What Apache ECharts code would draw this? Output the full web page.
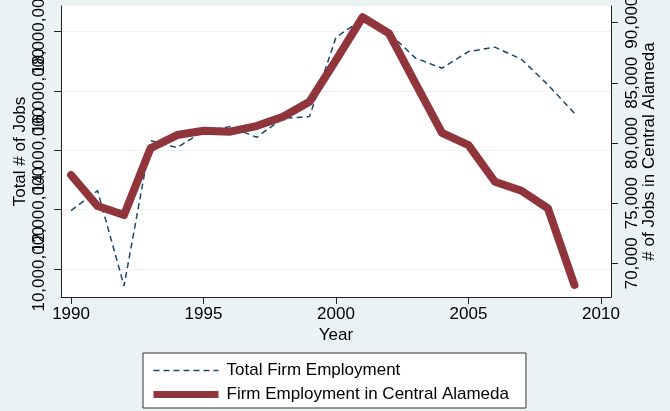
<!DOCTYPE html>
<html>
<head>
<meta charset="utf-8">
<script src="https://cdn.jsdelivr.net/npm/echarts@6/dist/echarts.min.js"></script>
<style>
  html, body { margin: 0; padding: 0; background: #eaf2f3; }
  #chart { width: 670px; height: 411px; }
</style>
</head>
<body>
<div id="chart"></div>
<script>
const years = [1990, 1991, 1992, 1993, 1994, 1995, 1996, 1997, 1998, 1999,
  2000, 2001, 2002, 2003, 2004, 2005, 2006, 2007, 2008, 2009]
const totalJobs = [11970000, 12640000, 9430000, 14330000, 14090000, 14650000, 14800000, 14440000, 15080000, 15140000,
  17810000, 18420000, 17960000, 17110000, 16770000, 17330000, 17480000, 17070000, 16210000, 15250000]
const centralJobs = [77340, 74760, 74010, 79560, 80660, 81020, 80940, 81410, 82180, 83430,
  86890, 90450, 89110, 84960, 80850, 79830, 76780, 76030, 74570, 68200]
const yearTicks = [1990, 1995, 2000, 2005, 2010]
const totalTicks = [10000000, 12000000, 14000000, 16000000, 18000000]
const centralTicks = [70000, 75000, 80000, 85000, 90000]

const font = '"Liberation Sans", Arial, sans-serif'
const axisColor = '#222'
const navy = '#1a476f'
const maroon = '#90353b'
const fmt = v => Math.round(v).toLocaleString('en-US')

// left tick labels are long and overlap each other (as in the original);
// split them over two stacked axes so ECharts doesn't drop every other one
const totalTicksA = totalTicks.filter((v, i) => i % 2 === 0)
const totalTicksB = totalTicks.filter((v, i) => i % 2 === 1)
const totalMin = 9056000
const totalMax = 18867000

const labelStyle = {
  interval: 0, rotate: 90, fontSize: 17, color: '#000', margin: 13,
  showMinLabel: true, showMaxLabel: true, hideOverlap: false, formatter: fmt
}

const chart = echarts.init(document.getElementById('chart'))

chart.setOption({
  backgroundColor: '#eaf2f3',
  animation: false,
  textStyle: { fontFamily: font, color: '#000' },
  grid: {
    left: 61, top: 6, right: 59, bottom: 114,
    outerBoundsMode: 'none',
    containLabel: false,
    show: true, backgroundColor: '#fff', borderWidth: 0
  },
  legend: {
    orient: 'vertical',
    left: 143, top: 353, height: 58,
    padding: [9, 17, 5, 7],
    itemWidth: 65, itemHeight: 14, itemGap: 7,
    backgroundColor: '#fff',
    borderColor: '#333', borderWidth: 1, borderRadius: 0,
    itemStyle: { opacity: 0 },
    textStyle: { fontSize: 17, color: '#000', fontFamily: font, padding: [0, 0, 0, 3] },
    data: [
      { name: 'Total Firm Employment', lineStyle: { color: navy, width: 1.5, type: [6, 4], cap: 'butt' } },
      { name: 'Firm Employment in Central Alameda', lineStyle: { color: maroon, width: 7, type: 'solid', cap: 'butt' } }
    ]
  },
  xAxis: {
    type: 'value',
    min: 1989.62, max: 2010.38,
    name: 'Year', nameLocation: 'middle', nameGap: 30, nameMoveOverlap: false,
    nameTextStyle: { fontSize: 17, color: '#000' },
    axisLine: { show: true, onZero: false, lineStyle: { color: axisColor, width: 1 } },
    axisTick: { show: true, length: 7, customValues: yearTicks, lineStyle: { color: axisColor } },
    axisLabel: {
      customValues: yearTicks, interval: 0, fontSize: 17, color: '#000', margin: 9,
      showMinLabel: true, showMaxLabel: true, formatter: v => String(v)
    },
    splitLine: { show: false }
  },
  yAxis: [{
    type: 'value',
    position: 'left',
    min: totalMin, max: totalMax,
    name: 'Total # of Jobs', nameLocation: 'middle', nameGap: 32, nameRotate: 90, nameMoveOverlap: false,
    nameTextStyle: { fontSize: 17, color: '#000' },
    axisLine: { show: true, onZero: false, lineStyle: { color: axisColor, width: 1 } },
    axisTick: { show: true, length: 7, customValues: totalTicks, lineStyle: { color: axisColor } },
    axisLabel: Object.assign({ customValues: totalTicksA }, labelStyle),
    splitLine: { show: true, lineStyle: { color: '#eaf2f3', width: 1 } }
  }, {
    type: 'value',
    position: 'right',
    min: 67199, max: 91388,
    name: '# of Jobs in Central Alameda', nameLocation: 'middle', nameGap: 30, nameRotate: 90, nameMoveOverlap: false,
    nameTextStyle: { fontSize: 17, color: '#000' },
    axisLine: { show: true, onZero: false, lineStyle: { color: axisColor, width: 1 } },
    axisTick: { show: true, length: 7, customValues: centralTicks, lineStyle: { color: axisColor } },
    axisLabel: Object.assign({}, labelStyle, { customValues: centralTicks }),
    splitLine: { show: false }
  }, {
    type: 'value',
    position: 'left',
    offset: 0,
    min: totalMin, max: totalMax,
    axisLine: { show: false },
    axisTick: { show: false },
    axisLabel: Object.assign({ customValues: totalTicksB }, labelStyle),
    splitLine: { show: false }
  }],
  series: [{
    name: 'Total Firm Employment',
    type: 'line',
    yAxisIndex: 0,
    data: years.map((y, i) => [y, totalJobs[i]]),
    symbol: 'none',
    lineStyle: { color: navy, width: 1.5, type: [6, 4] },
    itemStyle: { color: navy },
    z: 2
  }, {
    name: 'Firm Employment in Central Alameda',
    type: 'line',
    yAxisIndex: 1,
    data: years.map((y, i) => [y, centralJobs[i]]),
    symbol: 'none',
    lineStyle: { color: maroon, width: 8, cap: 'round', join: 'round' },
    itemStyle: { color: maroon },
    z: 3
  }]
})
</script>
</body>
</html>
